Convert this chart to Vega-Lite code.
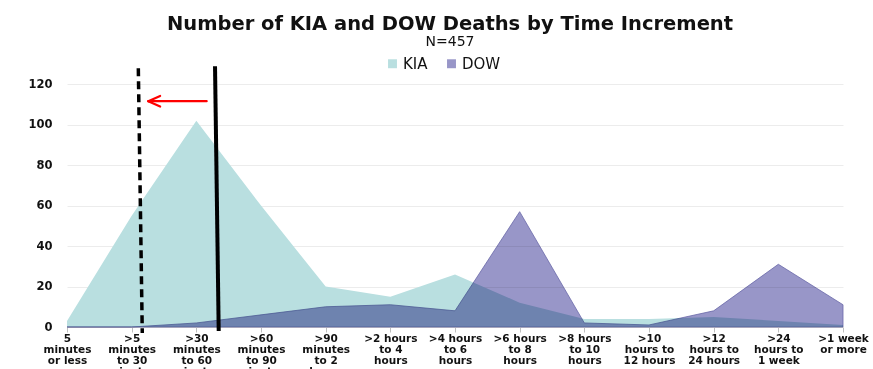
{
  "$schema": "https://vega.github.io/schema/vega-lite/v6.json",
  "width": 776,
  "height": 263,
  "autosize": {"type": "none"},
  "padding": {"left": 67, "top": 64, "right": 30, "bottom": 42},
  "background": "white",
  "config": {"view": {"stroke": null}},
  "title": {
    "text": "Number of KIA and DOW Deaths by Time Increment",
    "subtitle": "N=457",
    "font": "DejaVu Sans",
    "fontSize": 19.5,
    "fontWeight": "bold",
    "color": "#111",
    "subtitleFont": "DejaVu Sans",
    "subtitleFontSize": 14,
    "subtitleColor": "#111",
    "subtitlePadding": 1,
    "anchor": "middle",
    "dx": -5,
    "offset": 6
  },
  "datasets": {
    "deaths": [
      {"i": 0, "label": "5 minutes or less", "series": "KIA", "deaths": 3},
      {"i": 1, "label": ">5 minutes to 30 minutes", "series": "KIA", "deaths": 55},
      {"i": 2, "label": ">30 minutes to 60 minutes", "series": "KIA", "deaths": 102},
      {"i": 3, "label": ">60 minutes to 90 minutes", "series": "KIA", "deaths": 60},
      {"i": 4, "label": ">90 minutes to 2 hours", "series": "KIA", "deaths": 20},
      {"i": 5, "label": ">2 hours to 4 hours", "series": "KIA", "deaths": 15},
      {"i": 6, "label": ">4 hours to 6 hours", "series": "KIA", "deaths": 26},
      {"i": 7, "label": ">6 hours to 8 hours", "series": "KIA", "deaths": 12},
      {"i": 8, "label": ">8 hours to 10 hours", "series": "KIA", "deaths": 4},
      {"i": 9, "label": ">10 hours to 12 hours", "series": "KIA", "deaths": 4},
      {"i": 10, "label": ">12 hours to 24 hours", "series": "KIA", "deaths": 5},
      {"i": 11, "label": ">24 hours to 1 week", "series": "KIA", "deaths": 3},
      {"i": 12, "label": ">1 week or more", "series": "KIA", "deaths": 1},
      {"i": 0, "label": "5 minutes or less", "series": "DOW", "deaths": 0},
      {"i": 1, "label": ">5 minutes to 30 minutes", "series": "DOW", "deaths": 0},
      {"i": 2, "label": ">30 minutes to 60 minutes", "series": "DOW", "deaths": 2},
      {"i": 3, "label": ">60 minutes to 90 minutes", "series": "DOW", "deaths": 6},
      {"i": 4, "label": ">90 minutes to 2 hours", "series": "DOW", "deaths": 10},
      {"i": 5, "label": ">2 hours to 4 hours", "series": "DOW", "deaths": 11},
      {"i": 6, "label": ">4 hours to 6 hours", "series": "DOW", "deaths": 8},
      {"i": 7, "label": ">6 hours to 8 hours", "series": "DOW", "deaths": 57},
      {"i": 8, "label": ">8 hours to 10 hours", "series": "DOW", "deaths": 2},
      {"i": 9, "label": ">10 hours to 12 hours", "series": "DOW", "deaths": 1},
      {"i": 10, "label": ">12 hours to 24 hours", "series": "DOW", "deaths": 8},
      {"i": 11, "label": ">24 hours to 1 week", "series": "DOW", "deaths": 31},
      {"i": 12, "label": ">1 week or more", "series": "DOW", "deaths": 11}
    ],
    "dashed": [{"x": 1.103, "x2": 1.164, "y": 127.9, "y2": -3}],
    "solid": [{"x": 2.289, "x2": 2.346, "y": 128.9, "y2": -2}],
    "arrow": [
      {"x": 2.16, "x2": 1.26, "y": 111.6, "y2": 111.6},
      {"x": 1.257, "x2": 1.44, "y": 111.6, "y2": 114.2},
      {"x": 1.257, "x2": 1.44, "y": 111.6, "y2": 109.0}
    ]
  },
  "layer": [
    {
      "data": {"name": "deaths"},
      "transform": [{"filter": "datum.series === 'KIA'"}],
      "mark": {"type": "area", "opacity": 1},
      "encoding": {
        "x": {
          "field": "i",
          "type": "quantitative",
          "scale": {"domain": [0, 12], "nice": false, "zero": false},
          "axis": {
            "title": null,
            "values": [0, 1, 2, 3, 4, 5, 6, 7, 8, 9, 10, 11, 12],
            "grid": false,
            "domainColor": "#d9d9d9",
            "tickColor": "#bfbfbf",
            "tickSize": 5,
            "labelFont": "DejaVu Sans",
            "labelFontSize": 10.5,
            "labelFontWeight": "bold",
            "labelColor": "#111",
            "labelLineHeight": 11,
            "labelPadding": 1,
            "labelBaseline": "top",
            "labelOverlap": false,
            "labelFlush": false,
            "labelBound": false,
            "labelExpr": "[['5','minutes','or less'],['>5','minutes','to 30','minutes'],['>30','minutes','to 60','minutes'],['>60','minutes','to 90','minutes'],['>90','minutes','to 2','hours'],['>2 hours','to 4','hours'],['>4 hours','to 6','hours'],['>6 hours','to 8','hours'],['>8 hours','to 10','hours'],['>10','hours to','12 hours'],['>12','hours to','24 hours'],['>24','hours to','1 week'],['>1 week','or more']][datum.value]"
          }
        },
        "y": {
          "field": "deaths",
          "type": "quantitative",
          "stack": null,
          "scale": {"domain": [0, 130], "nice": false},
          "axis": {
            "title": null,
            "values": [0, 20, 40, 60, 80, 100, 120],
            "domain": false,
            "ticks": false,
            "gridColor": "#ececec",
            "gridWidth": 1,
            "labelFont": "DejaVu Sans",
            "labelFontSize": 11.5,
            "labelFontWeight": "bold",
            "labelColor": "#111",
            "labelPadding": 15
          }
        },
        "color": {
          "field": "series",
          "type": "nominal",
          "scale": {"domain": ["KIA", "DOW"], "range": ["#b9dfe0", "#9896c8"]},
          "legend": {
            "title": null,
            "orient": "none",
            "direction": "horizontal",
            "legendX": 318,
            "legendY": -8,
            "symbolType": "square",
            "symbolSize": 80,
            "symbolStrokeWidth": 0,
            "labelFont": "DejaVu Sans",
            "labelFontSize": 15,
            "labelColor": "#111",
            "labelOffset": 3,
            "columnPadding": 16
          }
        }
      }
    },
    {
      "data": {"name": "deaths"},
      "transform": [{"filter": "datum.series === 'DOW'"}],
      "mark": {"type": "area", "opacity": 1, "blend": "multiply", "stroke": "#6a68a8", "strokeWidth": 0.8},
      "encoding": {
        "x": {"field": "i", "type": "quantitative"},
        "y": {"field": "deaths", "type": "quantitative", "stack": null},
        "color": {"field": "series", "type": "nominal"}
      }
    },
    {
      "data": {"name": "dashed"},
      "mark": {"type": "rule", "color": "black", "strokeWidth": 3.5, "strokeDash": [8, 5]},
      "encoding": {
        "x": {"field": "x", "type": "quantitative"},
        "x2": {"field": "x2"},
        "y": {"field": "y", "type": "quantitative"},
        "y2": {"field": "y2"}
      }
    },
    {
      "data": {"name": "solid"},
      "mark": {"type": "rule", "color": "black", "strokeWidth": 4},
      "encoding": {
        "x": {"field": "x", "type": "quantitative"},
        "x2": {"field": "x2"},
        "y": {"field": "y", "type": "quantitative"},
        "y2": {"field": "y2"}
      }
    },
    {
      "data": {"name": "arrow"},
      "mark": {"type": "rule", "color": "#ff0000", "strokeWidth": 2.2, "strokeCap": "round"},
      "encoding": {
        "x": {"field": "x", "type": "quantitative"},
        "x2": {"field": "x2"},
        "y": {"field": "y", "type": "quantitative"},
        "y2": {"field": "y2"}
      }
    }
  ]
}
